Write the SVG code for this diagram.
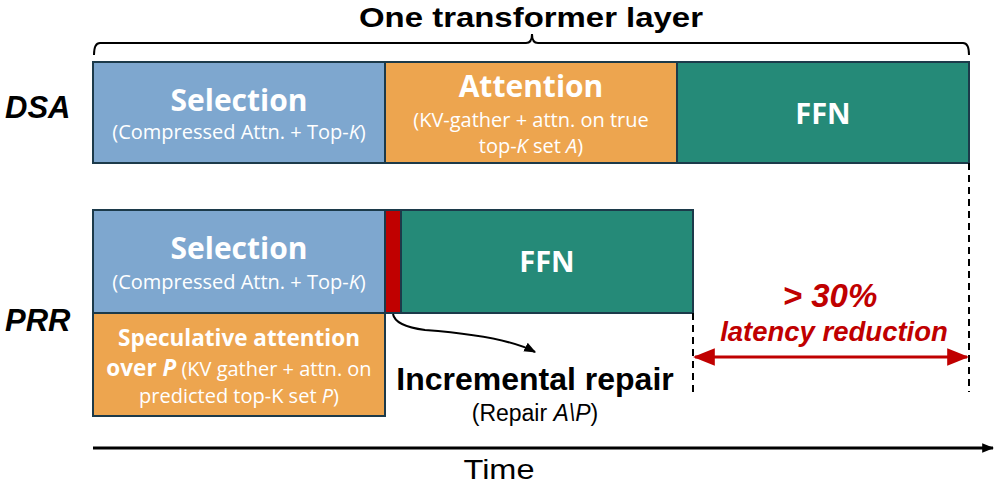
<svg xmlns="http://www.w3.org/2000/svg" width="996" height="486" viewBox="0 0 996 486">
<defs>
<style>
.box{stroke:#1c3a4a;stroke-width:2}
.sel{fill:#7ea7cf}
.att{fill:#eda54f}
.ffn{fill:#258a78}
.red{fill:#c00000}
.bt{font-family:"Open Sans","Noto Sans",sans-serif;fill:#fff;text-anchor:middle}
.h{font-weight:bold;font-size:30px}
.s{font-size:20px}
.f{font-weight:bold;font-size:29px}
.ar{font-family:"Liberation Sans",Arial,sans-serif}
.dash{stroke:#000;stroke-width:2;stroke-dasharray:7,5;fill:none}
</style>
<marker id="rh" viewBox="0 0 10 10" refX="9" refY="5" markerWidth="22" markerHeight="22" orient="auto-start-reverse" markerUnits="userSpaceOnUse">
<path d="M0,1 L10,5 L0,9 z" fill="#c00000"/>
</marker>
<marker id="th" viewBox="0 0 10 10" refX="9" refY="5" markerWidth="12" markerHeight="12" orient="auto" markerUnits="userSpaceOnUse">
<path d="M0,1 L10,5 L0,9 z" fill="#000"/>
</marker>
</defs>
<rect width="996" height="486" fill="#fff"/>

<text x="531" y="27" text-anchor="middle" class="ar" font-weight="bold" font-size="28.5" textLength="344" lengthAdjust="spacingAndGlyphs">One transformer layer</text>
<path d="M94,55 Q94,43 100,43 L526,43 Q532,43 532,34 Q532,43 538,43 L963,43 Q969,43 969,55" fill="none" stroke="#000" stroke-width="2"/>

<text x="5" y="118" class="ar" font-weight="bold" font-style="italic" font-size="31">DSA</text>
<text x="5" y="331" class="ar" font-weight="bold" font-style="italic" font-size="31">PRR</text>

<g id="dsa-selection">
<rect class="box sel" x="93" y="62" width="292" height="101"/>
<text class="bt h" x="239" y="111">Selection</text>
<text class="bt s" x="239" y="139">(Compressed Attn. + Top-<tspan font-style="italic">K</tspan>)</text>
</g>
<g id="dsa-attention">
<rect class="box att" x="385" y="62" width="292" height="101"/>
<text class="bt h" x="531" y="97">Attention</text>
<text class="bt s" x="531" y="127">(KV-gather + attn. on true</text>
<text class="bt s" x="531" y="153">top-<tspan font-style="italic">K</tspan> set <tspan font-style="italic">A</tspan>)</text>
</g>
<g id="dsa-ffn">
<rect class="box ffn" x="677" y="62" width="292" height="101"/>
<text class="bt f" x="823" y="124">FFN</text>
</g>

<g id="prr-selection">
<rect class="box sel" x="93" y="210" width="292" height="103"/>
<text class="bt h" x="239" y="259">Selection</text>
<text class="bt s" x="239" y="289">(Compressed Attn. + Top-<tspan font-style="italic">K</tspan>)</text>
</g>
<g id="prr-repair-bar">
<rect class="box red" x="385" y="210" width="16" height="103"/>
</g>
<g id="prr-ffn">
<rect class="box ffn" x="401" y="210" width="292" height="103"/>
<text class="bt f" x="547" y="272">FFN</text>
</g>
<g id="prr-speculative">
<rect class="box att" x="93" y="313" width="292" height="103"/>
<text class="bt" x="239" y="346" font-weight="bold" font-size="22.5">Speculative attention</text>
<text class="bt s" x="239" y="376"><tspan font-weight="bold" font-size="22.5">over <tspan font-style="italic">P</tspan></tspan> (KV gather + attn. on</text>
<text class="bt s" x="239" y="403">predicted top-K set <tspan font-style="italic">P</tspan>)</text>
</g>

<g id="incremental-repair">
<text class="ar" x="535" y="390" text-anchor="middle" font-weight="bold" font-size="32">Incremental repair</text>
<text class="ar" x="535" y="421" text-anchor="middle" font-size="23">(Repair <tspan font-style="italic">A\P</tspan>)</text>
</g>

<g id="latency">
<text class="ar" x="830" y="307" text-anchor="middle" font-weight="bold" font-style="italic" font-size="33" fill="#c00000">&gt; 30%</text>
<text class="ar" x="834" y="341" text-anchor="middle" font-weight="bold" font-style="italic" font-size="27.5" fill="#c00000">latency reduction</text>
</g>

<text class="ar" x="499" y="479" text-anchor="middle" font-size="28" textLength="71" lengthAdjust="spacingAndGlyphs">Time</text>

<g id="connectors">
<path class="dash" d="M693,313 L693,392"/>
<path class="dash" d="M969,163 L969,392"/>
<path d="M393,314 Q395,326 425,330 Q505,336 535,352" fill="none" stroke="#000" stroke-width="2" marker-end="url(#th)"/>
<line x1="695" y1="357" x2="967" y2="357" stroke="#c00000" stroke-width="3" marker-start="url(#rh)" marker-end="url(#rh)"/>
<line x1="93" y1="448" x2="993" y2="448" stroke="#000" stroke-width="3" marker-end="url(#th)"/>
</g>
</svg>
